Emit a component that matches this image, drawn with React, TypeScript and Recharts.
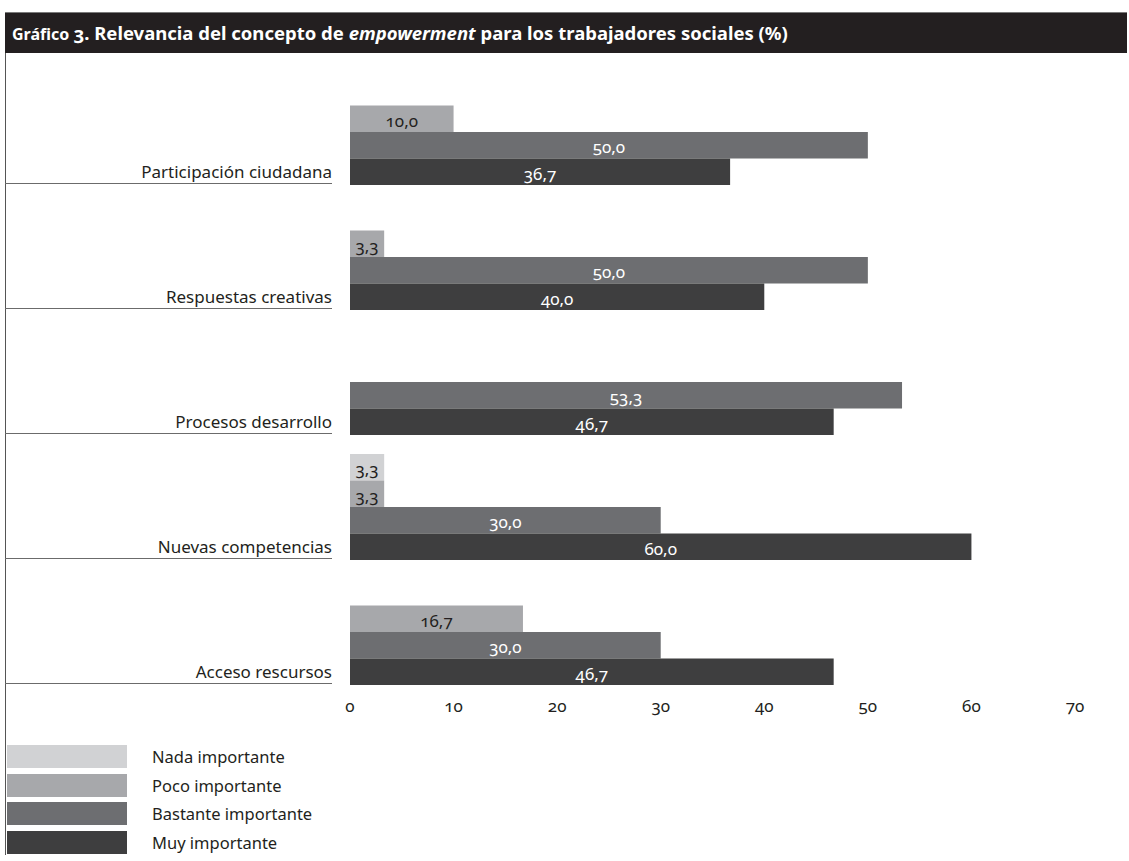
import React from "react";
import { Bar, BarChart, LabelList, XAxis, YAxis } from "recharts";

const categories = [
  "Participación ciudadana",
  "Respuestas creativas",
  "Procesos desarrollo",
  "Nuevas competencias",
  "Acceso rescursos",
];
const nada = [0, 0, 0, 3.3, 0];
const poco = [10.0, 3.3, 0, 3.3, 16.7];
const bastante = [50.0, 50.0, 53.3, 30.0, 30.0];
const muy = [36.7, 40.0, 46.7, 60.0, 46.7];
const xTicks = [0, 10, 20, 30, 40, 50, 60, 70];

const series = [
  { key: "nada", name: "Nada importante", color: "#d1d2d4", text: "#231f20" },
  { key: "poco", name: "Poco importante", color: "#a7a8ab", text: "#231f20" },
  { key: "bastante", name: "Bastante importante", color: "#6d6e71", text: "#ffffff" },
  { key: "muy", name: "Muy importante", color: "#3e3e3f", text: "#ffffff" },
];

const data = categories.map((name, i) => ({
  name,
  nada: nada[i],
  poco: poco[i],
  bastante: bastante[i],
  muy: muy[i],
}));

const FONT = "'Noto Sans', sans-serif";
const NUMS: React.CSSProperties = { fontVariantNumeric: "oldstyle-nums" };

const PLOT_TOP = 60;
const PLOT_H = 625;
const HALF_BAND = PLOT_H / categories.length / 2;

const fmt = (v: number) => v.toFixed(1).replace(".", ",");

const CategoryTick = ({ y, payload }: any) => {
  const bottom = y + HALF_BAND;
  return (
    <g>
      <text
        x={332}
        y={bottom - 7}
        textAnchor="end"
        fontSize={17}
        fill="#231f20"
        fontFamily={FONT}
      >
        {payload.value}
      </text>
      <line x1={5} x2={332} y1={bottom - 1.5} y2={bottom - 1.5} stroke="#6b6b6b" strokeWidth={1} />
    </g>
  );
};

const ValueTick = ({ x, y, payload }: any) => (
  <text
    x={x}
    y={y + 19}
    textAnchor="middle"
    fontSize={17}
    fill="#231f20"
    fontFamily={FONT}
    style={NUMS}
  >
    {payload.value}
  </text>
);

const makeLabel = (fill: string) => (props: any) => {
  const { x, y, width, height, value } = props;
  if (!value) return null;
  return (
    <text
      x={x + width / 2}
      y={y + height / 2 + 8}
      textAnchor="middle"
      fontSize={17}
      fill={fill}
      fontFamily={FONT}
      style={NUMS}
    >
      {fmt(value)}
    </text>
  );
};

export default function App() {
  return (
    <div
      style={{
        position: "absolute",
        left: 0,
        top: 0,
        width: 1129,
        height: 861,
        background: "#fff",
        fontFamily: FONT,
      }}
    >
      {/* title band */}
      <div
        style={{
          position: "absolute",
          left: 5,
          top: 12,
          width: 1122,
          height: 41,
          background: "#231f20",
          borderTop: "1px solid #7a7a7a",
          color: "#fff",
          fontWeight: 700,
          fontSize: 18.5,
          lineHeight: "40px",
          paddingLeft: 7,
          boxSizing: "border-box",
          whiteSpace: "nowrap",
        }}
      >
        <span style={{ fontSize: 16 }}>Gráfico </span>
        <span style={NUMS}>3</span>. Relevancia del concepto de <i>empowerment</i> para los
        trabajadores sociales (%)
      </div>
      {/* left rule */}
      <div
        style={{
          position: "absolute",
          left: 5,
          top: 53,
          width: 1,
          height: 802,
          background: "#555",
        }}
      />
      <div style={{ position: "absolute", left: 0, top: 0 }}>
        <BarChart
          width={1129}
          height={861}
          data={data}
          layout="vertical"
          barGap={0}
          margin={{ top: PLOT_TOP, right: 54, bottom: 861 - PLOT_TOP - PLOT_H - 30, left: 8 }}
        >
          <XAxis
            type="number"
            domain={[0, 70]}
            ticks={xTicks}
            axisLine={false}
            tickLine={false}
            tick={<ValueTick />}
            height={30}
            interval={0}
          />
          <YAxis
            type="category"
            dataKey="name"
            width={342}
            axisLine={false}
            tickLine={false}
            tick={<CategoryTick />}
            interval={0}
          />
          {/* empty slot keeps the four bars flush with the bottom of each band */}
          <Bar dataKey="spacer" barSize={18} fill="transparent" isAnimationActive={false} />
          {series.map((s) => (
            <Bar
              key={s.key}
              dataKey={s.key}
              name={s.name}
              fill={s.color}
              barSize={26.5}
              isAnimationActive={false}
            >
              <LabelList dataKey={s.key} content={makeLabel(s.text)} />
            </Bar>
          ))}
        </BarChart>
      </div>
      {/* legend */}
      {series.map((s, i) => (
        <div
          key={s.key}
          style={{ position: "absolute", left: 7, top: 745 + i * 28.7, height: 23, display: "flex", alignItems: "center" }}
        >
          <div style={{ width: 120, height: 23, background: s.color }} />
          <span style={{ marginLeft: 25, fontSize: 16.5, color: "#231f20" }}>{s.name}</span>
        </div>
      ))}
    </div>
  );
}
